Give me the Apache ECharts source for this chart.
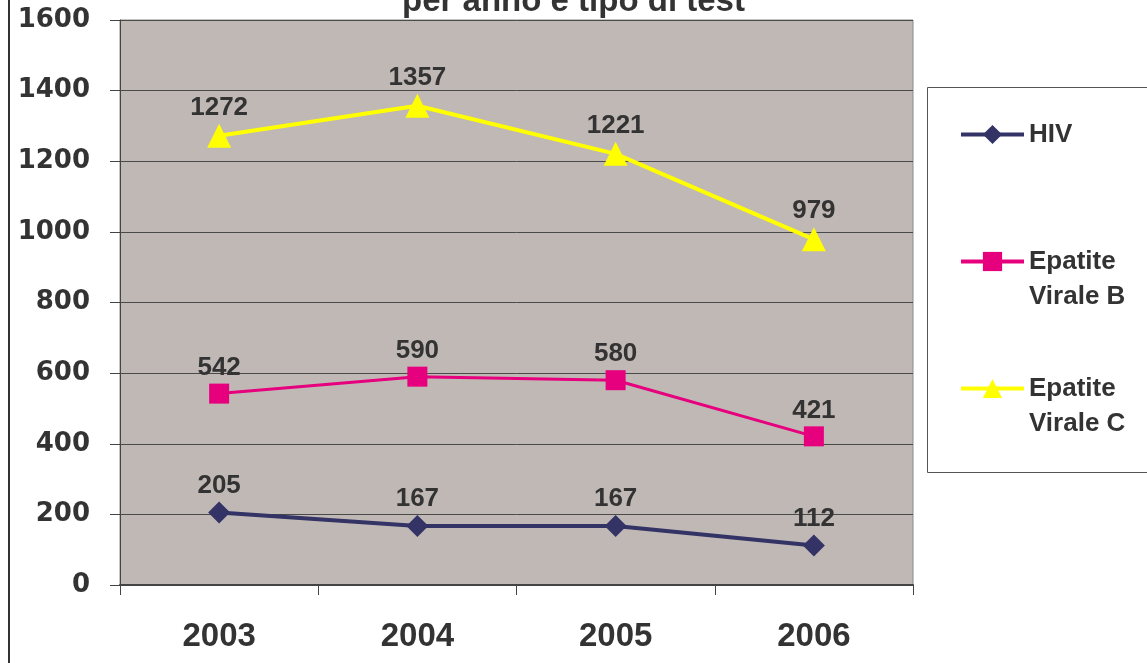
<!DOCTYPE html>
<html>
<head>
<meta charset="utf-8">
<title>Test per anno e tipo di test</title>
<script src="https://cdn.jsdelivr.net/npm/echarts@6/dist/echarts.min.js"></script>
<style>
  html, body { margin: 0; padding: 0; background: #fff; }
  #chart { width: 1147px; height: 663px; }
</style>
</head>
<body>
<div id="chart"></div>
<script>
// dati
const anni = ['2003', '2004', '2005', '2006']
const hiv = [205, 167, 167, 112]
const epatiteB = [542, 590, 580, 421]
const epatiteC = [1272, 1357, 1221, 979]
const yTicks = [0, 200, 400, 600, 800, 1000, 1200, 1400, 1600]

const labelFont = 'Liberation Sans, Arial, sans-serif'

function makeSeries(name, data, color, symbol, symbolSize, lineWidth) {
  return {
    name: name,
    type: 'line',
    data: data,
    symbol: symbol,
    symbolSize: symbolSize,
    color: color,
    lineStyle: { color: color, width: lineWidth },
    itemStyle: { color: color },
    label: {
      show: true,
      position: 'top',
      distance: 3,
      color: '#333',
      fontFamily: labelFont,
      fontWeight: 'bold',
      fontSize: 26
    },
    animation: false
  }
}

const chart = echarts.init(document.getElementById('chart'))
chart.setOption({
  title: {
    text: 'per anno e tipo di test',
    left: 'center',
    top: -20,
    textStyle: {
      fontFamily: labelFont,
      fontWeight: 'bold',
      fontSize: 33,
      color: '#333'
    }
  },
  grid: {
    left: 120,
    right: 234,
    top: 20,
    bottom: 78,
    show: true,
    backgroundColor: '#C0B8B5',
    borderColor: '#8a8a8a',
    borderWidth: 1
  },
  legend: {
    orient: 'vertical',
    left: 959,
    top: 82,
    padding: 0,
    itemGap: 22,
    itemWidth: 63,
    itemHeight: 24,
    lineStyle: { width: 4 },
    data: ['HIV', 'Epatite Virale B', 'Epatite Virale C'],
    // riga vuota sopra, così il simbolo sta sulla prima riga del testo
    formatter: function (name) {
      if (name === 'HIV') return ' \nHIV\n '
      return ' \n' + name.replace('Epatite ', 'Epatite\n')
    },
    textStyle: {
      fontFamily: labelFont,
      fontWeight: 'bold',
      fontSize: 26,
      lineHeight: 35,
      color: '#333'
    }
  },
  xAxis: {
    type: 'category',
    data: anni,
    boundaryGap: true,
    axisLine: { lineStyle: { color: '#444', width: 2 } },
    axisTick: { show: true, length: 10, lineStyle: { color: '#444' } },
    axisLabel: {
      margin: 35,
      color: '#333',
      fontFamily: labelFont,
      fontWeight: 'bold',
      fontSize: 33
    },
    splitLine: { show: false }
  },
  yAxis: {
    type: 'value',
    min: yTicks[0],
    max: yTicks[yTicks.length - 1],
    interval: 200,
    axisLine: { show: true, lineStyle: { color: '#444', width: 1 } },
    axisTick: { show: true, length: 10, lineStyle: { color: '#444' } },
    axisLabel: {
      margin: 30,
      color: '#333',
      fontFamily: 'DejaVu Sans, sans-serif',
      fontWeight: 'bold',
      fontSize: 26,
      formatter: function (v) { return String(v) }
    },
    splitLine: { show: true, lineStyle: { color: '#4a4a4a', width: 1 } }
  },
  graphic: [
    {
      type: 'line',
      shape: { x1: 9, y1: 0, x2: 9, y2: 663 },
      style: { stroke: '#333', lineWidth: 2 }
    },
    {
      type: 'rect',
      shape: { x: 927.5, y: 87.5, width: 260, height: 385 },
      style: { fill: 'none', stroke: '#555', lineWidth: 1 },
      z: -1
    }
  ],
  series: [
    makeSeries('HIV', hiv, '#333366', 'diamond', 22, 4),
    makeSeries('Epatite Virale B', epatiteB, '#E6007E', 'rect', 20, 3),
    makeSeries('Epatite Virale C', epatiteC, '#FFFF00', 'triangle', 24, 4)
  ]
})
</script>
</body>
</html>
